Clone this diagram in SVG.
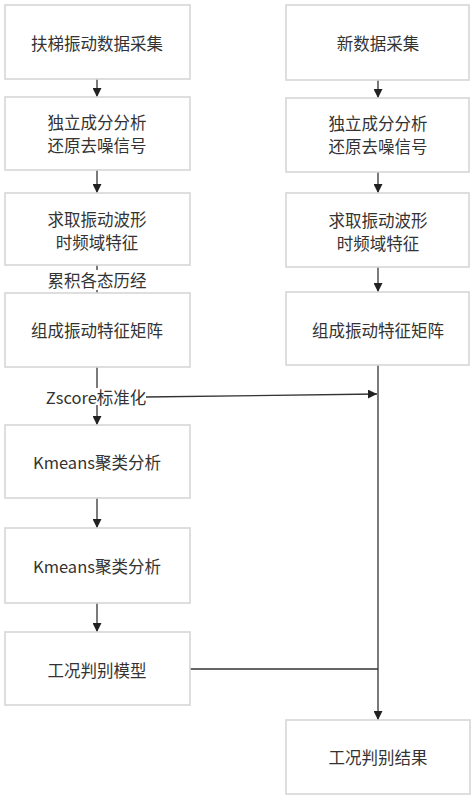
<svg xmlns="http://www.w3.org/2000/svg" width="476" height="800" viewBox="0 0 476 800">
<defs>
<style>
.box{fill:#fff;stroke:#d6d6d6;stroke-width:1.6}
.t{font-family:"Noto Sans CJK SC","Noto Sans",sans-serif;font-size:16.5px;fill:#333;text-anchor:middle;dominant-baseline:central}
.ln{stroke:#333;stroke-width:1.3;fill:none}
</style>
<marker id="ah" viewBox="0 0 10 10" refX="10" refY="5" markerWidth="9" markerHeight="9" markerUnits="userSpaceOnUse" orient="auto">
<path d="M0,0 L10,5 L0,10 z" fill="#222"/>
</marker>
</defs>
<rect width="476" height="800" fill="#fff"/>
<g id="connectors">
<line class="ln" x1="97" y1="79" x2="97" y2="97" marker-end="url(#ah)"/>
<line class="ln" x1="97" y1="170" x2="97" y2="193" marker-end="url(#ah)"/>
<line class="ln" x1="97" y1="265" x2="97" y2="293"/>
<line class="ln" x1="97" y1="367" x2="97" y2="425" marker-end="url(#ah)"/>
<line class="ln" x1="97" y1="498" x2="97" y2="528" marker-end="url(#ah)"/>
<line class="ln" x1="97" y1="603" x2="97" y2="632" marker-end="url(#ah)"/>
<line class="ln" x1="378" y1="80" x2="378" y2="98" marker-end="url(#ah)"/>
<line class="ln" x1="378" y1="172" x2="378" y2="193" marker-end="url(#ah)"/>
<line class="ln" x1="378" y1="267" x2="378" y2="292" marker-end="url(#ah)"/>
<line class="ln" x1="378" y1="365" x2="378" y2="720" marker-end="url(#ah)"/>
<line class="ln" x1="145" y1="397" x2="377" y2="394" marker-end="url(#ah)"/>
<line class="ln" x1="190" y1="669" x2="378" y2="669"/>
<rect x="44" y="270" width="106" height="20" fill="#fff"/>
<text class="t" x="97" y="280">累积各态历经</text>
<rect x="46" y="388" width="100" height="17" fill="#fff"/>
<text class="t" x="96" y="397">Zscore标准化</text>
</g>
<g id="n1"><rect class="box" x="5" y="5" width="185" height="74"/><text class="t" x="97" y="43">扶梯振动数据采集</text></g>
<g id="n2"><rect class="box" x="5" y="97" width="185" height="73"/><text class="t" x="97" y="122">独立成分分析</text><text class="t" x="97" y="145">还原去噪信号</text></g>
<g id="n3"><rect class="box" x="5" y="193" width="185" height="72"/><text class="t" x="97" y="219">求取振动波形</text><text class="t" x="97" y="242">时频域特征</text></g>
<g id="n4"><rect class="box" x="5" y="293" width="185" height="74"/><text class="t" x="97" y="330">组成振动特征矩阵</text></g>
<g id="n5"><rect class="box" x="5" y="425" width="185" height="73"/><text class="t" x="97" y="462">Kmeans聚类分析</text></g>
<g id="n6"><rect class="box" x="5" y="528" width="185" height="75"/><text class="t" x="97" y="566">Kmeans聚类分析</text></g>
<g id="n7"><rect class="box" x="5" y="632" width="185" height="73"/><text class="t" x="97" y="670">工况判别模型</text></g>
<g id="r1"><rect class="box" x="286" y="5" width="183" height="75"/><text class="t" x="378" y="43">新数据采集</text></g>
<g id="r2"><rect class="box" x="286" y="98" width="183" height="74"/><text class="t" x="378" y="123">独立成分分析</text><text class="t" x="378" y="146">还原去噪信号</text></g>
<g id="r3"><rect class="box" x="286" y="193" width="183" height="74"/><text class="t" x="378" y="220">求取振动波形</text><text class="t" x="378" y="243">时频域特征</text></g>
<g id="r4"><rect class="box" x="286" y="292" width="183" height="73"/><text class="t" x="378" y="330">组成振动特征矩阵</text></g>
<g id="r5"><rect class="box" x="286" y="720" width="184" height="74"/><text class="t" x="378" y="757">工况判别结果</text></g>
</svg>
